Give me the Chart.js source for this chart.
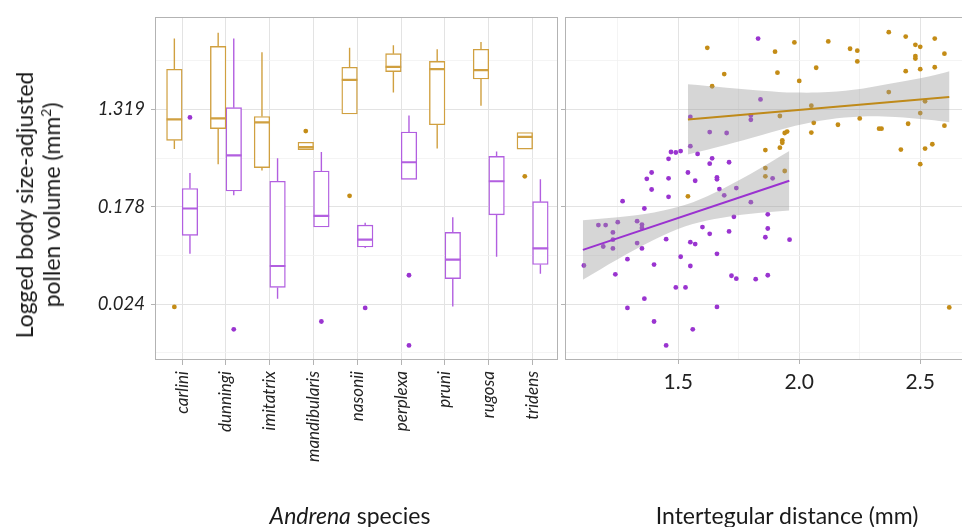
<!DOCTYPE html>
<html>
<head>
<meta charset="utf-8">
<script src="https://cdn.jsdelivr.net/npm/chart.js@4.4.1/dist/chart.umd.min.js"></script>
<style>
  html, body { margin: 0; padding: 0; background: #fff; overflow: hidden; width: 962px; height: 527px; }
  #wrap { position: relative; width: 962px; height: 527px; font-family: Lato, sans-serif; color: #1a1a1a; overflow: hidden; }
  canvas { position: absolute; top: 0; }
  #boxChart { left: 0; }
  #scatterChart { left: 540px; }
  .title { position: absolute; white-space: nowrap; font-size: 23px; transform: translate(-50%, -50%); }
  #yTitle { left: 38px; top: 205px; transform: translate(-50%, -50%) rotate(-90deg); text-align: center; font-size: 23px; line-height: 27px; }
  sup { font-size: 14px; vertical-align: super; line-height: 0; }
</style>
</head>
<body>
<div id="wrap">
  <canvas id="boxChart" width="562" height="527"></canvas>
  <canvas id="scatterChart" width="480" height="527"></canvas>
  <div id="yTitle" class="title">Logged body size-adjusted<br>pollen volume (mm<sup>2</sup>)</div>
  <div class="title" style="left:350px; top:515px"><i>Andrena</i> species</div>
  <div class="title" style="left:787px; top:515px">Intertegular distance (mm)</div>
</div>
<script>
// ---- data (log scale values) ----
const species = ["carlini", "dunningi", "imitatrix", "mandibularis", "nasonii", "perplexa", "pruni", "rugosa", "tridens"];

// [lower whisker, q1, median, q3, upper whisker]
const goldStats = [
  [-0.54, -0.36, 0.07, 1.10, 1.73],
  [-0.85, -0.12, 0.09, 1.57, 1.85],
  [-0.98, -0.92, 0.01, 0.13, 1.45],
  [-0.55, -0.55, -0.50, -0.40, -0.40],
  [0.18, 0.18, 0.88, 1.14, 1.54],
  [0.62, 1.05, 1.15, 1.42, 1.59],
  [-0.53, -0.04, 1.10, 1.26, 1.51],
  [0.35, 0.90, 1.08, 1.51, 1.66],
  [-0.54, -0.54, -0.29, -0.20, -0.20]
];
const purpleStats = [
  [-2.69, -2.31, -1.76, -1.35, -1.03],
  [-1.49, -1.40, -0.67, 0.31, 1.73],
  [-3.61, -3.38, -2.94, -1.20, -0.73],
  [-2.14, -2.14, -1.91, -0.99, -0.60],
  [-2.57, -2.55, -2.40, -2.10, -2.05],
  [-1.16, -1.16, -0.81, -0.19, 0.15],
  [-3.77, -3.20, -2.81, -2.25, -1.94],
  [-2.75, -1.89, -1.20, -0.69, -0.59],
  [-3.10, -2.91, -2.58, -1.62, -1.16]
];
const goldOutlierSpecies = [0, 3, 4, 8];
const goldOutlierValues = [-3.78, -0.17, -1.50, -1.10];
const purpleOutlierSpecies = [0, 1, 3, 4, 5, 5];
const purpleOutlierValues = [0.11, -4.24, -4.08, -3.80, -3.13, -4.57];

const goldX = [1.62, 1.69, 1.64, 1.54, 1.90, 1.98, 2.12, 2.21, 2.24, 2.24, 2.37, 2.44, 2.48, 2.50, 2.56, 2.48, 2.48, 2.60,
  1.91, 2.07, 2.00, 2.44, 2.50, 2.56, 2.37, 2.05, 2.52, 1.92, 2.06, 2.16, 2.25, 2.50, 2.45, 2.60, 2.33, 2.34,
  1.94, 1.95, 2.05, 1.93, 1.93, 1.92, 1.86, 2.42, 2.52, 2.55, 2.50, 1.86, 1.86, 1.94, 2.62];
const goldY = [1.54, 1.00, 0.75, -1.51, 1.46, 1.65, 1.67, 1.52, 1.48, 1.26, 1.86, 1.77, 1.60, 1.56, 1.73, 1.37, 1.32, 1.42,
  1.03, 1.13, 0.86, 1.06, 1.10, 1.14, 0.63, 0.35, 0.44, 0.14, 0.00, -0.04, 0.09, 0.20, -0.02, -0.06, -0.12, -0.12,
  -0.21, -0.18, -0.20, -0.36, -0.41, -0.51, -0.56, -0.55, -0.53, -0.44, -0.85, -0.93, -1.10, -0.99, -3.79];

const purpleX = [1.83, 1.84, 1.55, 1.80, 1.80, 1.63, 1.70, 1.55, 1.47, 1.49, 1.51, 1.58, 1.46, 1.64, 1.63, 1.71, 1.39, 1.54,
  1.37, 1.46, 1.57, 1.66, 1.66, 1.39, 1.67, 1.74, 1.89, 1.46, 1.27, 1.36, 1.69, 1.80, 1.17, 1.20, 1.25, 1.33, 1.35,
  1.35, 1.23, 1.23, 1.19, 1.23, 1.33, 1.35, 1.45, 1.60, 1.63, 1.73, 1.71, 1.86, 1.55, 1.57, 1.11, 1.29, 1.24, 1.40,
  1.51, 1.55, 1.66, 1.72, 1.74, 1.82, 1.49, 1.53, 1.36, 1.29, 1.66, 1.40, 1.56, 1.45, 1.87, 1.87, 1.96, 1.87];
const purpleY = [1.73, 0.48, 0.12, 0.15, 0.06, -0.19, -0.21, -0.48, -0.60, -0.61, -0.58, -0.64, -0.74, -0.73, -0.84, -0.81, -1.02, -1.02,
  -1.15, -1.14, -1.19, -1.12, -1.16, -1.37, -1.36, -1.34, -1.14, -1.52, -1.61, -1.76, -1.49, -1.63, -2.10, -2.10, -2.04, -2.02, -2.09,
  -2.16, -2.25, -2.40, -2.54, -2.58, -2.47, -2.58, -2.39, -2.14, -2.28, -1.93, -2.23, -2.35, -2.45, -2.49, -2.93, -2.80, -3.11, -2.91,
  -2.75, -2.94, -2.69, -3.14, -3.20, -3.21, -3.38, -3.38, -3.61, -3.80, -3.78, -4.08, -4.24, -4.57, -1.88, -2.17, -2.40, -3.13];

const goldFitX = [1.54, 2.62];
const goldFitY = [0.07, 0.53];
const goldBandX = [1.54, 1.70, 1.846, 1.984, 2.121, 2.259, 2.397, 2.535, 2.621];
const goldBandHi = [0.79, 0.72, 0.66, 0.62, 0.63, 0.70, 0.82, 0.95, 1.06];
const goldBandLo = [-0.65, -0.45, -0.25, -0.06, 0.07, 0.13, 0.12, 0.06, 0.01];

const purpleFitX = [1.106, 1.959];
const purpleFitY = [-2.61, -1.19];
const purpleBandX = [1.106, 1.25, 1.40, 1.53, 1.65, 1.80, 1.959];
const purpleBandHi = [-2.00, -1.94, -1.84, -1.685, -1.435, -1.045, -0.58];
const purpleBandLo = [-3.22, -2.80, -2.40, -2.125, -1.975, -1.865, -1.80];

const yTickValues = [-3.723, -1.723, 0.277];
const yTickLabels = ["0.024", "0.178", "1.319"];
const yMinorValues = [-4.723, -2.723, -0.723, 1.277];
const xTickValues = [1.5, 2.0, 2.5];
const xTickLabels = ["1.5", "2.0", "2.5"];
const xMinorValues = [1.25, 1.75, 2.25, 2.75];

// ---- styles ----
const GOLD = "#c48c16";
const PURPLE = "#9a34d0";
const GOLD_BOX = "#d0a040";
const PURPLE_BOX = "#b25fe0";
const MAJOR = "#e3e3e3";
const MINOR = "#f1f1f1";
const AXIS = "#b3b3b3";
const DODGE = 0.178;

const panelBorder = {
  id: "panelBorder",
  afterDatasetsDraw(chart) {
    const { ctx, chartArea: a } = chart;
    ctx.save();
    ctx.strokeStyle = AXIS;
    ctx.lineWidth = 1;
    ctx.strokeRect(Math.round(a.left) + 0.5, Math.round(a.top) + 0.5,
      Math.round(a.right - a.left) - 1, Math.round(a.bottom - a.top) - 1);
    ctx.restore();
  }
};

function yAxis(width, withLabels) {
  const isMajor = (c) => c.tick && yTickValues.includes(c.tick.value);
  return {
    type: "linear",
    min: -4.87,
    max: 2.17,
    afterBuildTicks: (s) => {
      s.ticks = yMinorValues.concat(yTickValues).sort((a, b) => a - b).map((v) => ({ value: v }));
    },
    afterFit: (s) => { s.width = width; },
    border: { display: false },
    grid: {
      color: (c) => (isMajor(c) ? MAJOR : MINOR),
      lineWidth: (c) => (isMajor(c) ? 1 : 0.8),
      tickLength: 4,
      tickColor: (c) => (isMajor(c) ? AXIS : "rgba(0,0,0,0)")
    },
    ticks: {
      autoSkip: false,
      padding: 6,
      color: "#222",
      font: { family: "Lato", size: 18.5, style: "italic" },
      callback: (v) => {
        const k = yTickValues.indexOf(v);
        return withLabels && k >= 0 ? yTickLabels[k] : "";
      }
    }
  };
}

function boxData(stats, shift) {
  return stats.map((s, i) => ({ x: i + shift, y: [s[1], s[3]] }));
}
function whiskerData(stats, shift) {
  const pts = [];
  stats.forEach((s, i) => {
    pts.push({ x: i + shift, y: s[4] }, { x: i + shift, y: s[3] }, { x: i + shift, y: null });
    pts.push({ x: i + shift, y: s[1] }, { x: i + shift, y: s[0] }, { x: i + shift, y: null });
  });
  return pts;
}
function medianData(stats, shift) {
  const pts = [];
  stats.forEach((s, i) => {
    pts.push({ x: i + shift - DODGE, y: s[2] }, { x: i + shift + DODGE, y: s[2] }, { x: i + shift, y: null });
  });
  return pts;
}
function outlierData(idx, vals, shift) {
  return idx.map((s, k) => ({ x: s + shift, y: vals[k] }));
}
function xy(xs, ys) {
  return xs.map((x, i) => ({ x: x, y: ys[i] }));
}

function boxSet(stats, shift, color) {
  return [
    { type: "bar", data: boxData(stats, shift), backgroundColor: "#ffffff", borderColor: color,
      borderWidth: 1.4, borderSkipped: false, barThickness: 15.6, grouped: false, order: 5 },
    { type: "line", data: whiskerData(stats, shift), borderColor: color, borderWidth: 1.4,
      pointRadius: 0, spanGaps: false, order: 4 },
    { type: "line", data: medianData(stats, shift), borderColor: color, borderWidth: 2.2,
      pointRadius: 0, spanGaps: false, order: 3 }
  ];
}

// ---- left panel: box plots ----
new Chart(document.getElementById("boxChart"), {
  type: "scatter",
  data: {
    datasets: [
      ...boxSet(goldStats, -DODGE, GOLD_BOX),
      ...boxSet(purpleStats, DODGE, PURPLE_BOX),
      { data: outlierData(goldOutlierSpecies, goldOutlierValues, -DODGE), backgroundColor: GOLD,
        pointRadius: 2.4, borderWidth: 0, order: 2 },
      { data: outlierData(purpleOutlierSpecies, purpleOutlierValues, DODGE), backgroundColor: PURPLE,
        pointRadius: 2.4, borderWidth: 0, order: 2 }
    ]
  },
  options: {
    responsive: false,
    animation: false,
    events: [],
    layout: { padding: { top: 15, right: 4, bottom: 0, left: 0 } },
    plugins: { legend: { display: false }, tooltip: { enabled: false } },
    scales: {
      x: {
        type: "linear",
        min: -0.62,
        max: 8.58,
        offset: false,
        afterBuildTicks: (s) => { s.ticks = species.map((_, i) => ({ value: i })); },
        afterFit: (s) => { s.height = 167; },
        border: { display: false },
        grid: { color: MAJOR, offset: false, tickLength: 5, tickColor: AXIS },
        ticks: {
          autoSkip: false,
          minRotation: 90,
          maxRotation: 90,
          padding: 6,
          color: "#222",
          font: { family: "Lato", size: 17, style: "italic" },
          callback: (v) => species[v] ?? ""
        }
      },
      y: yAxis(155, true)
    }
  },
  plugins: [panelBorder]
});

// ---- right panel: scatter with fitted lines ----
function bandSet(xs, hi, lo) {
  return [
    { type: "line", data: xy(xs, hi), borderWidth: 0, pointRadius: 0, tension: 0.35,
      fill: "+1", backgroundColor: "rgba(153,153,153,0.4)", order: 2 },
    { type: "line", data: xy(xs, lo), borderWidth: 0, pointRadius: 0, tension: 0.35,
      fill: false, order: 2 }
  ];
}

new Chart(document.getElementById("scatterChart"), {
  type: "scatter",
  data: {
    datasets: [
      { data: xy(goldX, goldY), backgroundColor: GOLD, pointRadius: 2.4, borderWidth: 0, order: 3 },
      { data: xy(purpleX, purpleY), backgroundColor: PURPLE, pointRadius: 2.4, borderWidth: 0, order: 3 },
      ...bandSet(goldBandX, goldBandHi, goldBandLo),
      ...bandSet(purpleBandX, purpleBandHi, purpleBandLo),
      { type: "line", data: xy(goldFitX, goldFitY), borderColor: "#bf8a1a", borderWidth: 2, pointRadius: 0, order: 1 },
      { type: "line", data: xy(purpleFitX, purpleFitY), borderColor: "#9a32d0", borderWidth: 2, pointRadius: 0, order: 1 }
    ]
  },
  options: {
    responsive: false,
    animation: false,
    events: [],
    layout: { padding: { top: 15, right: 10, bottom: 0, left: 0 } },
    plugins: { legend: { display: false }, tooltip: { enabled: false } },
    scales: {
      x: {
        type: "linear",
        min: 1.032,
        max: 2.871,
        afterBuildTicks: (s) => {
          s.ticks = xMinorValues.concat(xTickValues).sort((a, b) => a - b).map((v) => ({ value: v }));
        },
        afterFit: (s) => { s.height = 167; },
        border: { display: false },
        grid: {
          color: (c) => (c.tick && xTickValues.includes(c.tick.value) ? MAJOR : MINOR),
          lineWidth: (c) => (c.tick && xTickValues.includes(c.tick.value) ? 1 : 0.8),
          tickLength: 4,
          tickColor: (c) => (c.tick && xTickValues.includes(c.tick.value) ? AXIS : "rgba(0,0,0,0)")
        },
        ticks: {
          autoSkip: false,
          maxRotation: 0,
          minRotation: 0,
          padding: 6,
          color: "#222",
          font: { family: "Lato", size: 21 },
          callback: (v) => {
            const k = xTickValues.indexOf(v);
            return k >= 0 ? xTickLabels[k] : "";
          }
        }
      },
      y: yAxis(25, false)
    }
  },
  plugins: [panelBorder]
});
</script>
</body>
</html>
